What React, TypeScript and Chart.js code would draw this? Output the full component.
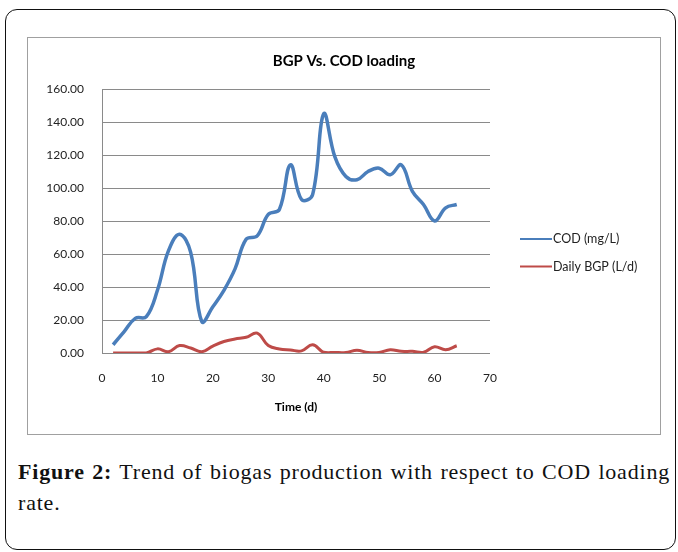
import React, { useEffect, useRef } from "react";
import { Chart, registerables } from "chart.js";

Chart.register(...registerables);

// ---- Data ----
const days = [2, 4, 6, 8, 10, 12, 14, 16, 18, 20, 22, 24, 26, 28, 30, 32, 34, 36, 38, 40, 42, 44, 46, 48, 50, 52, 54, 56, 58, 60, 62, 64];
const codValues = [5, 13, 21, 22, 38, 62, 72, 61, 19, 28, 38, 51, 69, 71, 84, 87, 114, 93, 96, 145, 119, 107, 105, 110, 112, 108, 114, 98, 90, 80, 88, 90];
const bgpValues = [0, 0, 0, 0, 2.5, 0.8, 4.5, 3, 0.8, 4.2, 7, 8.5, 9.5, 12, 4.5, 2.4, 1.8, 1.3, 5, 0.4, 0.3, 0.3, 1.6, 0.3, 0.3, 2, 1, 1, 0.4, 3.8, 2, 4.4];
const seriesLabels = ["COD (mg/L)", "Daily BGP (L/d)"];
const seriesColors = ["#4A7EBB", "#BE4B48"];
const chartTitle = "BGP Vs. COD loading";
const xAxisTitle = "Time (d)";
const xRange = [0, 70];
const yRange = [0, 160];
const xStep = 10;
const yStep = 20;

const FONT = "Lato, 'Open Sans', sans-serif";

const sideLegend = {
  id: "sideLegend",
  afterDraw(chart: any) {
    const { ctx, chartArea } = chart;
    const x0 = chartArea.right + 30;
    const ys = [chartArea.top + 150, chartArea.top + 177.5];
    ctx.save();
    chart.data.datasets.forEach((ds: any, i: number) => {
      const y = ys[i];
      ctx.strokeStyle = ds.borderColor;
      ctx.lineWidth = 2;
      ctx.beginPath();
      ctx.moveTo(x0, y);
      ctx.lineTo(x0 + 32, y);
      ctx.stroke();
      ctx.fillStyle = "#222";
      ctx.font = `12.5px ${FONT}`;
      ctx.textBaseline = "middle";
      ctx.textAlign = "left";
      ctx.fillText(ds.label, x0 + 33, y);
    });
    ctx.restore();
  },
};

function BgpChart() {
  const ref = useRef<HTMLCanvasElement | null>(null);
  useEffect(() => {
    if (!ref.current) return;
    const chart = new Chart(ref.current, {
      type: "line",
      data: {
        datasets: [
          {
            label: seriesLabels[0],
            data: days.map((d, i) => ({ x: d, y: codValues[i] })),
            borderColor: seriesColors[0],
            backgroundColor: seriesColors[0],
            borderWidth: 3.5,
            pointRadius: 0,
            tension: 0.4,
            fill: false,
          },
          {
            label: seriesLabels[1],
            data: days.map((d, i) => ({ x: d, y: bgpValues[i] })),
            borderColor: seriesColors[1],
            backgroundColor: seriesColors[1],
            borderWidth: 3,
            pointRadius: 0,
            tension: 0.4,
            fill: false,
          },
        ],
      },
      options: {
        responsive: false,
        animation: false,
        devicePixelRatio: 1,
        layout: { padding: { left: 0, right: 0, top: 0, bottom: 20 } },
        plugins: {
          legend: { display: false },
          tooltip: { enabled: false },
          title: {
            display: true,
            text: chartTitle,
            color: "#000",
            font: { family: FONT, size: 15, weight: "bold" },
            padding: { top: 14, bottom: 19 },
          },
        },
        scales: {
          x: {
            type: "linear",
            min: xRange[0],
            max: xRange[1],
            grid: { display: false, drawTicks: false },
            border: { display: false },
            ticks: {
              stepSize: xStep,
              padding: 18,
              color: "#222",
              font: { family: FONT, size: 12 },
              maxRotation: 0,
            },
            title: {
              display: true,
              text: xAxisTitle,
              color: "#000",
              font: { family: FONT, size: 12, weight: "bold" },
              padding: 0,
            },
            afterFit: (s: any) => {
              s.height = 61;
            },
          },
          y: {
            type: "linear",
            min: yRange[0],
            max: yRange[1],
            grid: { color: "#8a8a8a", lineWidth: 1, drawTicks: false },
            border: { display: true, color: "#8a8a8a", width: 1 },
            ticks: {
              stepSize: yStep,
              padding: 18,
              color: "#222",
              font: { family: FONT, size: 12 },
              callback: (v: any) => Number(v).toFixed(2),
            },
            afterFit: (s: any) => {
              s.width = 74;
            },
          },
          legendSpace: {
            type: "linear",
            position: "right",
            display: true,
            min: yRange[0],
            max: yRange[1],
            grid: { display: false, drawTicks: false },
            border: { display: false },
            ticks: { display: false },
            afterFit: (s: any) => {
              s.width = 170;
            },
          },
        },
      },
      plugins: [sideLegend],
    });
    return () => chart.destroy();
  }, []);
  return <canvas ref={ref} width={632} height={396} style={{ display: "block", width: 632, height: 396 }} />;
}

export default function App() {
  return (
    <div style={{ position: "absolute", left: 0, top: 0, width: 678, height: 552, background: "#fff" }}>
      <div
        style={{
          position: "absolute",
          left: 5,
          top: 9,
          width: 671,
          height: 541,
          boxSizing: "border-box",
          border: "1.5px solid #111",
          borderRadius: 12,
        }}
      />
      <div
        style={{
          position: "absolute",
          left: 27,
          top: 37,
          width: 634,
          height: 398,
          boxSizing: "border-box",
          border: "1px solid #a0a0a0",
        }}
      >
        <BgpChart />
      </div>
      <div
        style={{
          position: "absolute",
          left: 18,
          top: 456,
          width: 652,
          fontFamily: "'Liberation Serif', 'Times New Roman', serif",
          fontSize: 22,
          lineHeight: "31px",
          letterSpacing: "0.8px",
          color: "#111",
        }}
      >
        <div style={{ textAlign: "justify", textAlignLast: "justify" as any, whiteSpace: "nowrap" as any }}>
          <b>Figure 2:</b> Trend of biogas production with respect to COD loading
        </div>
        <div>rate.</div>
      </div>
    </div>
  );
}
